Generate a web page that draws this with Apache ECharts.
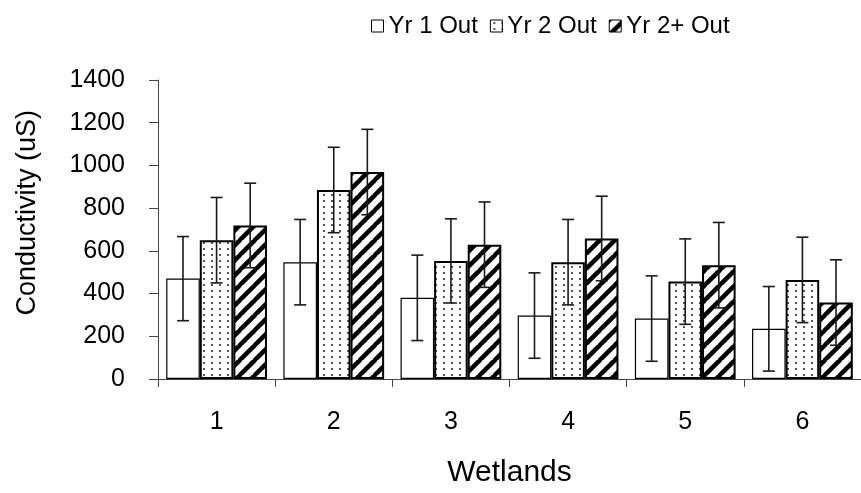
<!DOCTYPE html>
<html>
<head>
<meta charset="utf-8">
<script src="https://cdn.jsdelivr.net/npm/echarts@6/dist/echarts.min.js"></script>
<style>
  html, body { margin: 0; padding: 0; background: #fff; }
  #chart { width: 861px; height: 493px; }
</style>
</head>
<body>
<div id="chart"></div>
<script>
// Conductivity per wetland, three outflow periods, with error bars
const wetlands = ['1', '2', '3', '4', '5', '6'];
const seriesNames = ['Yr 1 Out', 'Yr 2 Out', 'Yr 2+ Out'];
const yr1Out = [470, 547, 380, 297, 283, 235];
const yr2Out = [650, 885, 553, 547, 456, 464];
const yr2PlusOut = [719, 969, 629, 658, 533, 358];
const yr1Err = [197, 200, 200, 200, 200, 198];
const yr2Err = [200, 200, 197, 200, 200, 200];
const yr2PlusErr = [198, 200, 200, 198, 200, 200];
const yTicks = { min: 0, max: 1400, interval: 200 };

const FONT = 'Liberation Sans, Arial, sans-serif';
const GAP = 0.14;

// fill textures: fine dot grid and bold diagonal hatching
function dotTexture() {
  const c = document.createElement('canvas');
  c.width = 8; c.height = 6;
  const g = c.getContext('2d');
  g.fillStyle = '#fff'; g.fillRect(0, 0, 8, 6);
  g.fillStyle = '#555';
  g.fillRect(3, 2, 2, 2);
  return c;
}
function hatchTexture() {
  const s = 15;
  const c = document.createElement('canvas');
  c.width = s; c.height = s;
  const g = c.getContext('2d');
  g.fillStyle = '#fff'; g.fillRect(0, 0, s, s);
  g.strokeStyle = '#000'; g.lineWidth = 4.5;
  for (const k of [-s, 0, s]) {
    g.beginPath();
    g.moveTo(k - 1, s + 1);
    g.lineTo(k + s + 1, -1);
    g.stroke();
  }
  return c;
}

const fills = [
  '#ffffff',
  { image: dotTexture(), repeat: 'repeat' },
  { image: hatchTexture(), repeat: 'repeat' }
];
const borders = [1.2, 2, 2];
const values = [yr1Out, yr2Out, yr2PlusOut];
const errors = [yr1Err, yr2Err, yr2PlusErr];

function errorRenderer(sIdx) {
  return function (params, api) {
    const cat = api.value(0);
    const v = api.value(1);
    const e = api.value(2);
    const catW = api.size([1, 0])[0];
    const barW = catW * (1 - GAP) / 3;
    const center = api.coord([cat, v]);
    const x = center[0] + (sIdx - 1) * barW;
    const top = api.coord([cat, v + e])[1];
    const bot = api.coord([cat, v - e])[1];
    const cap = 6;
    const style = { stroke: '#1a1a1a', lineWidth: 1.6 };
    return {
      type: 'group',
      children: [
        { type: 'line', shape: { x1: x, y1: top, x2: x, y2: bot }, style },
        { type: 'line', shape: { x1: x - cap, y1: top, x2: x + cap, y2: top }, style },
        { type: 'line', shape: { x1: x - cap, y1: bot, x2: x + cap, y2: bot }, style }
      ]
    };
  };
}

const series = [];
values.forEach((vals, i) => {
  series.push({
    name: seriesNames[i],
    type: 'bar',
    data: vals,
    barGap: '0%',
    barCategoryGap: (GAP * 100) + '%',
    itemStyle: { color: fills[i], borderColor: '#000', borderWidth: borders[i] },
    emphasis: { disabled: true },
    z: 2
  });
});
values.forEach((vals, i) => {
  series.push({
    type: 'custom',
    renderItem: errorRenderer(i),
    data: vals.map((v, j) => [j, v, errors[i][j]]),
    encode: { x: 0, y: 1 },
    z: 5,
    silent: true
  });
});

const chart = echarts.init(document.getElementById('chart'), null, { renderer: 'canvas' });
chart.setOption({
  animation: false,
  backgroundColor: '#fff',
  textStyle: { fontFamily: FONT },
  legend: {
    data: seriesNames,
    left: 366,
    top: 9,
    icon: 'rect',
    itemWidth: 12,
    itemHeight: 12,
    itemGap: 12,
    itemStyle: { borderColor: '#000', borderWidth: 1 },
    textStyle: { fontFamily: FONT, fontSize: 24, color: '#000' },
    selectedMode: false
  },
  grid: { left: 158, top: 80, width: 710, height: 302, containLabel: false },
  xAxis: {
    type: 'category',
    data: wetlands,
    name: 'Wetlands',
    nameLocation: 'middle',
    nameGap: 79,
    nameTextStyle: { fontFamily: FONT, fontSize: 30, color: '#000' },
    axisLine: { lineStyle: { color: '#444', width: 1 } },
    axisTick: { show: true, length: 8, lineStyle: { color: '#444' } },
    axisLabel: { fontFamily: FONT, fontSize: 25, color: '#000', margin: 31 }
  },
  yAxis: {
    type: 'value',
    min: yTicks.min,
    max: yTicks.max,
    interval: yTicks.interval,
    splitLine: { show: false },
    axisLine: { show: true, lineStyle: { color: '#444', width: 1 } },
    axisTick: { show: true, length: 9, lineStyle: { color: '#444' } },
    axisLabel: { fontFamily: FONT, fontSize: 25, color: '#000', margin: 33, formatter: v => String(v) }
  },
  graphic: [{
    type: 'text',
    left: 14,
    top: 110,
    rotation: Math.PI / 2,
    style: { text: 'Conductivity (uS)', font: '27px ' + FONT, fill: '#000' }
  }],
  series
});
</script>
</body>
</html>
